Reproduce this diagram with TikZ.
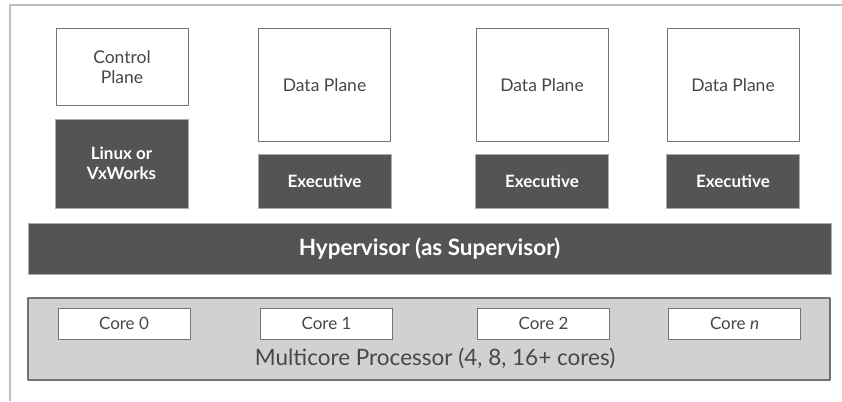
\documentclass[tikz,border=0pt]{standalone}
\usepackage{fontspec}
\setmainfont{Lato}
\usetikzlibrary{positioning}
\colorlet{dark_box}{black!67}
\colorlet{edge_line}{black!55}
\colorlet{frame_line}{black!25}
\colorlet{chip_fill}{black!18}
\colorlet{text_gray}{black!72}

\begin{document}
\begin{tikzpicture}[x=1pt,y=-1pt,line join=round,
  plane/.style={draw=edge_line,line width=1pt,fill=white,text=text_gray,
    minimum width=132pt,font=\fontsize{17.5}{20}\selectfont,align=center,inner sep=0pt},
  osbox/.style={draw=edge_line!60,line width=0.6pt,fill=dark_box,text=white,
    minimum width=133pt,font=\fontsize{17}{20}\selectfont\bfseries,align=center,inner sep=0pt},
  corebox/.style={draw=edge_line,line width=1pt,fill=white,text=text_gray,
    minimum width=132pt,minimum height=31pt,font=\fontsize{17}{19}\selectfont,inner sep=0pt}]

\useasboundingbox (0,0) rectangle (842,401);

% outer frame (open to the right and below)
\draw[frame_line,line width=2pt] (10,401) -- (10,5) -- (842,5);

% Define the guest partitions
\node[plane,minimum height=77pt]  (ctrl) at (122,67.5) {Control\\Plane};
\node[osbox,minimum height=89pt]  (linux) at (121.5,163.5) {Linux or\\VxWorks};

\foreach \name/\xpos in {one/324.5,two/542,three/733}
{
  \node[plane,minimum height=112pt] (data\name) at (\xpos,85) {Data Plane};
  \node[osbox,minimum height=54pt]  (exec\name) at (\xpos,181) {Executive};
}

%-----------------------------------------------
% Hypervisor layer
\node[osbox,minimum width=803pt,minimum height=51pt,
  font=\fontsize{22.5}{26}\selectfont\bfseries] (hyper) at (429.5,248.5) {Hypervisor (as Supervisor)};

%-----------------------------------------------
% Processor with its cores
\node[draw=edge_line,line width=1.2pt,fill=chip_fill,minimum width=802pt,
  minimum height=82pt,inner sep=0pt] (chip) at (429,339) {};
\node[text=text_gray,font=\fontsize{22.5}{26}\selectfont] (chiplabel) at (435,358)
  {Multicore Processor (4, 8, 16+ cores)};

\foreach \name/\xpos/\label in {zero/124/0,one/326.5/1,two/543.5/2,nth/734.5/\textit{n}}
{
  \node[corebox] (core\name) at (\xpos,323.5) {Core \label};
}

\end{tikzpicture}
\end{document}
